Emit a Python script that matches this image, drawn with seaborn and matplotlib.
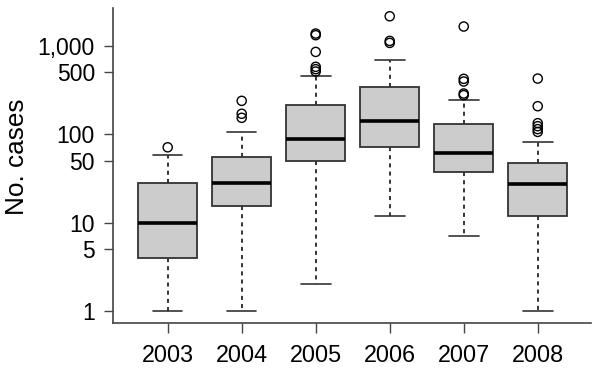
import numpy as np
import pandas as pd
import matplotlib
matplotlib.use("Agg")
import matplotlib.pyplot as plt
from matplotlib.ticker import NullLocator, FixedLocator, FixedFormatter
import seaborn as sns

# ---- data ----
years = ["2003", "2004", "2005", "2006", "2007", "2008"]
# five-number summaries: lower whisker, Q1, median, Q3, upper whisker
whisker_low = [1, 1, 2, 12, 7, 1]
q1 = [4, 15.5, 50, 71, 37, 12]
median = [10, 28, 89, 139, 61, 27]
q3 = [28, 55, 213, 340, 131, 47]
whisker_high = [58, 105, 449, 686, 244, 81]
# outliers per year
outliers = {
    "2003": [71],
    "2004": [153, 170, 238],
    "2005": [511, 543, 577, 851, 1315, 1373],
    "2006": [1076, 1133, 2153],
    "2007": [276, 288, 394, 422, 1648],
    "2008": [106, 114, 123, 133, 207, 425],
}
y_ticks = [1, 5, 10, 50, 100, 500, 1000]
y_tick_labels = ["1", "5", "10", "50", "100", "500", "1,000"]
y_label = "No. cases"

# ---- tables ----
rows = []
for i, yr in enumerate(years):
    for v in (whisker_low[i], q1[i], median[i], q3[i], whisker_high[i]):
        rows.append({"year": yr, "value": v})
box_df = pd.DataFrame(rows)
out_df = pd.DataFrame([{"year": yr, "value": v} for yr in years for v in outliers[yr]])

sns.set_style("ticks")
plt.rcParams["font.family"] = ["Liberation Sans", "DejaVu Sans"]

fig = plt.figure(figsize=(6, 3.7), dpi=100)
ax = fig.add_axes([0.18833, 0.12703, 0.7962, 0.85135])

edge = "#333333"
sns.boxplot(
    data=box_df, x="year", y="value", order=years, ax=ax,
    color="#cccccc", saturation=1, width=0.8, whis=np.inf,
    showfliers=False, log_scale=(False, True), linecolor=edge, linewidth=1.3,
    boxprops=dict(facecolor="#cccccc", edgecolor=edge, linewidth=1.3),
    whiskerprops=dict(color=edge, linewidth=1.4, linestyle=(0, (2.1, 2.1))),
    capprops=dict(color=edge, linewidth=1.2),
    medianprops=dict(color="black", linewidth=2.6),
)

n_before = len(ax.collections)
sns.stripplot(
    data=out_df, x="year", y="value", order=years, ax=ax,
    jitter=False, color="black", size=6.6, linewidth=1.0, edgecolor="black",
)
for coll in ax.collections[n_before:]:
    coll.set_facecolor("none")
    coll.set_edgecolor("black")

ax.set_yscale("log")
ax.yaxis.set_major_locator(FixedLocator(y_ticks))
ax.yaxis.set_major_formatter(FixedFormatter(y_tick_labels))
ax.yaxis.set_minor_locator(NullLocator())
ax.set_ylim(0.7316, 2670)
ax.set_xlim(-0.739, 5.716)

for side in ("top", "right"):
    ax.spines[side].set_visible(False)
for side in ("left", "bottom"):
    ax.spines[side].set_color("#444444")
    ax.spines[side].set_linewidth(1.2)

ax.tick_params(axis="y", length=6.5, width=1.0, color="#444444",
               labelsize=16.5, pad=6.5, labelcolor="black")
ax.tick_params(axis="x", length=7.4, width=1.0, color="#444444",
               labelsize=16.8, pad=7.5, labelcolor="black")

ax.set_xlabel("")
ax.set_ylabel(y_label, fontsize=18.8, color="black")
ax.yaxis.set_label_coords(-0.176, 0.527)
ax.grid(False)

fig.savefig("out.png", dpi=100)
